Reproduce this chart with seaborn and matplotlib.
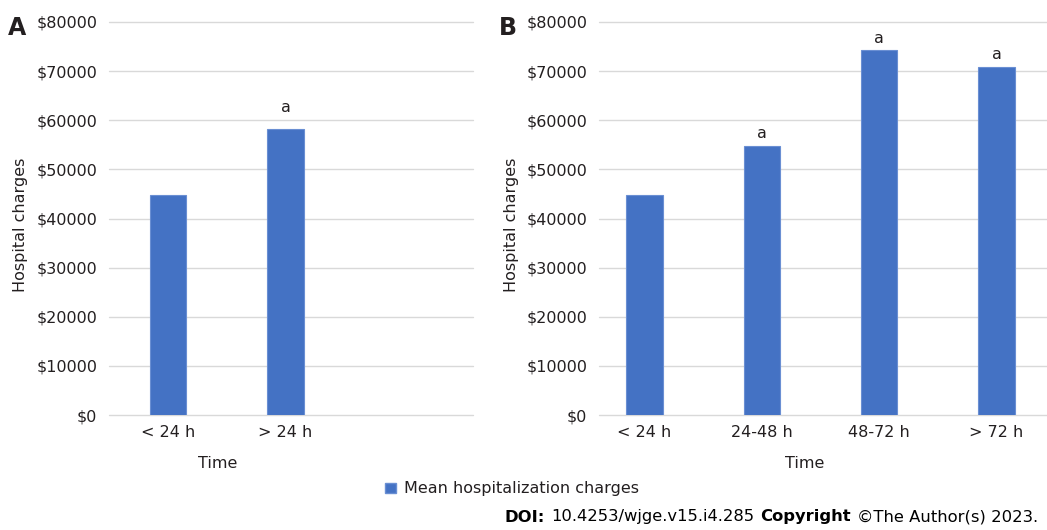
import matplotlib
matplotlib.use('Agg')
import matplotlib.pyplot as plt
from matplotlib.patches import Patch
import seaborn as sns
import pandas as pd

# ---- data ----
categories_a = ['< 24 h', '> 24 h']
values_a = [44700, 58300]
sig_a = ['', 'a']

categories_b = ['< 24 h', '24-48 h', '48-72 h', '> 72 h']
values_b = [44700, 54700, 74200, 70800]
sig_b = ['', 'a', 'a', 'a']

yticks = [0, 10000, 20000, 30000, 40000, 50000, 60000, 70000, 80000]
ytick_labels = ['$' + str(v) for v in yticks]
series_name = 'Mean hospitalization charges'
x_title = 'Time'
y_title = 'Hospital charges'

# ---- style ----
BLUE = '#4472C4'
EDGE = '#6A8FD3'
GRID = '#D9D9D9'
TXT = '#231F20'
FS = 11.5

sns.set_theme(style='white')
plt.rcParams['font.family'] = ['DejaVu Sans']
plt.rcParams['text.color'] = TXT
plt.rcParams['axes.labelcolor'] = TXT
plt.rcParams['xtick.color'] = TXT
plt.rcParams['ytick.color'] = TXT

W, H = 1047, 530
fig = plt.figure(figsize=(W / 100, H / 100), dpi=100)
fig.patch.set_facecolor('white')


def box(l, r, t, b):
    return [l / W, 1 - b / H, (r - l) / W, (b - t) / H]


ax_a = fig.add_axes(box(109, 473, 22, 415))
ax_b = fig.add_axes(box(599, 1047, 22, 415))


def draw(ax, cats, vals, sig, xlim, xlab_coords, ylab_coords, sig_offset):
    df = pd.DataFrame({'Time': cats, 'Charges': vals})
    sns.barplot(data=df, x='Time', y='Charges', order=cats, color=BLUE,
                saturation=1, width=0.31, edgecolor=EDGE, linewidth=0.8,
                ax=ax, zorder=3)
    ax.set_ylim(0, 80000)
    ax.set_xlim(*xlim)
    ax.set_yticks(yticks)
    ax.set_yticklabels(ytick_labels)
    ax.yaxis.grid(True, color=GRID, linewidth=1.0, zorder=0)
    ax.set_axisbelow(True)
    for gl in ax.get_ygridlines():
        gl.set_clip_on(False)
    for s in ax.spines.values():
        s.set_visible(False)
    ax.tick_params(axis='both', length=0, labelsize=FS)
    ax.tick_params(axis='y', pad=8.5)
    ax.tick_params(axis='x', pad=7.5)
    ax.set_xlabel(x_title, fontsize=FS)
    ax.set_ylabel(y_title, fontsize=FS)
    ax.xaxis.set_label_coords(*xlab_coords)
    ax.yaxis.set_label_coords(*ylab_coords)
    for i, (v, s) in enumerate(zip(vals, sig)):
        if s:
            ax.annotate(s, xy=(i, v), xytext=(0, sig_offset), textcoords='offset points',
                        ha='center', va='bottom', fontsize=FS, color=TXT)


draw(ax_a, categories_a, values_a, sig_a, (-0.502, 2.596),
     (0.298, -0.105), (-0.222, 0.483), 9.5)
draw(ax_b, categories_b, values_b, sig_b, (-0.387, 3.43),
     (0.46, -0.105), (-0.178, 0.483), 3.5)

# panel letters
fig.text(8 / W, 1 - 35 / H, 'A', fontsize=17, fontweight='bold', color=TXT,
         ha='left', va='baseline')
fig.text(499 / W, 1 - 35 / H, 'B', fontsize=17, fontweight='bold', color=TXT,
         ha='left', va='baseline')

# legend
handle = Patch(facecolor=BLUE, edgecolor=EDGE, label=series_name)
fig.legend(handles=[handle], loc='center', bbox_to_anchor=(512 / W, 1 - 489 / H),
           frameon=False, fontsize=FS, handlelength=0.65, handleheight=0.65,
           handletextpad=0.5, borderpad=0, borderaxespad=0)

# DOI line with mixed weights
pieces = [('DOI:', 'bold'), ('10.4253/wjge.v15.i4.285', 'normal'),
          ('Copyright', 'bold'), ('\u00a9The Author(s) 2023.', 'normal')]
DFS = 11.8
fig.canvas.draw()
renderer = fig.canvas.get_renderer()
x = 505
for txt, wt in pieces:
    t = fig.text(x / W, 1 - 517 / H, txt, fontsize=DFS, fontweight=wt,
                 color='black', ha='left', va='center')
    bb = t.get_window_extent(renderer=renderer)
    x += bb.width + 6

fig.savefig('out.png', dpi=100, facecolor='white')
